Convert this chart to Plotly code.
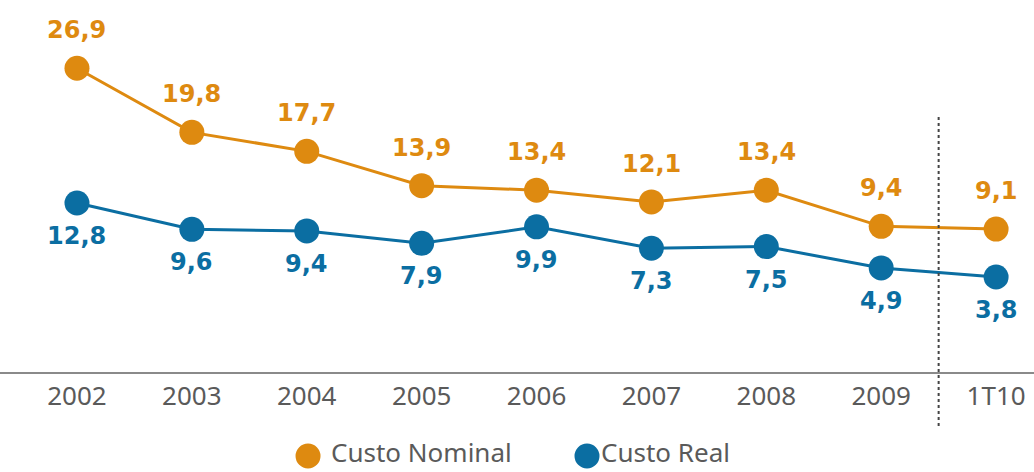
import plotly.graph_objects as go

# Period labels and series values
periods = ["2002", "2003", "2004", "2005", "2006", "2007", "2008", "2009", "1T10"]
custo_nominal = [26.9, 19.8, 17.7, 13.9, 13.4, 12.1, 13.4, 9.4, 9.1]
custo_real = [12.8, 9.6, 9.4, 7.9, 9.9, 7.3, 7.5, 4.9, 3.8]
series_names = ["Custo Nominal", "Custo Real"]

ORANGE = "#DE8A10"
BLUE = "#0B6EA2"
GRAY_TXT = "#5A5A5A"

xpos = list(range(len(periods)))


def fmt(v):
    return f"{v:.1f}".replace(".", ",")


label_font = dict(family="DejaVu Sans", size=24, weight="bold")

fig = go.Figure()

fig.add_trace(go.Scatter(
    x=xpos, y=custo_nominal, mode="lines+markers",
    line=dict(color=ORANGE, width=3),
    marker=dict(color=ORANGE, size=25),
    showlegend=False, hoverinfo="skip", yaxis="y", cliponaxis=False,
))

fig.add_trace(go.Scatter(
    x=xpos, y=custo_real, mode="lines+markers",
    line=dict(color=BLUE, width=3),
    marker=dict(color=BLUE, size=25),
    showlegend=False, hoverinfo="skip", yaxis="y2", cliponaxis=False,
))

# Value labels: nominal above the points, real below
for i, v in zip(xpos, custo_nominal):
    fig.add_annotation(x=i, y=v, xref="x", yref="y", text=fmt(v), showarrow=False,
                       yshift=38, font=dict(color=ORANGE, **label_font))
for i, v in zip(xpos, custo_real):
    fig.add_annotation(x=i, y=v, xref="x", yref="y2", text=fmt(v), showarrow=False,
                       yshift=-33, font=dict(color=BLUE, **label_font))

# Separator between annual figures and the quarter
fig.add_shape(type="line", xref="x", yref="paper", x0=7.5, x1=7.5, y0=-0.145, y1=0.69,
              line=dict(color="#444444", width=2, dash="dot"))

# Legend below the axis: filled circle + name for each series
legend_items = [(series_names[0], ORANGE, 0.2979, 0.3191),
                (series_names[1], BLUE, 0.5677, 0.5803)]
LEG_Y = -0.2258
LEG_TXT_BOTTOM = -0.2665
for name, color, cx, tx in legend_items:
    fig.add_shape(type="circle", xref="paper", yref="paper",
                  xsizemode="pixel", ysizemode="pixel",
                  xanchor=cx, yanchor=LEG_Y,
                  x0=-12.5, x1=12.5, y0=-12.5, y1=12.5,
                  fillcolor=color, line=dict(width=0))
    fig.add_annotation(x=tx, y=LEG_TXT_BOTTOM, xref="paper", yref="paper", text=name,
                       showarrow=False, xanchor="left", yanchor="bottom", borderpad=0,
                       font=dict(family="Noto Sans", size=26, color=GRAY_TXT))

fig.update_layout(
    width=1034, height=472,
    margin=dict(l=0, r=0, t=0, b=100),
    paper_bgcolor="white", plot_bgcolor="white",
    showlegend=False,
    xaxis=dict(
        range=[-0.67, 8.33], tickvals=xpos, ticktext=periods,
        showgrid=False, zeroline=False, showline=True,
        linecolor="#8A8A8A", linewidth=2, ticks="",
        tickfont=dict(family="Noto Sans", size=26, color=GRAY_TXT),
    ),
    yaxis=dict(range=[-6.72, 34.45], visible=False),
    yaxis2=dict(range=[-7.76, 37.5], visible=False, overlaying="y"),
)

fig.write_html("out.html")
